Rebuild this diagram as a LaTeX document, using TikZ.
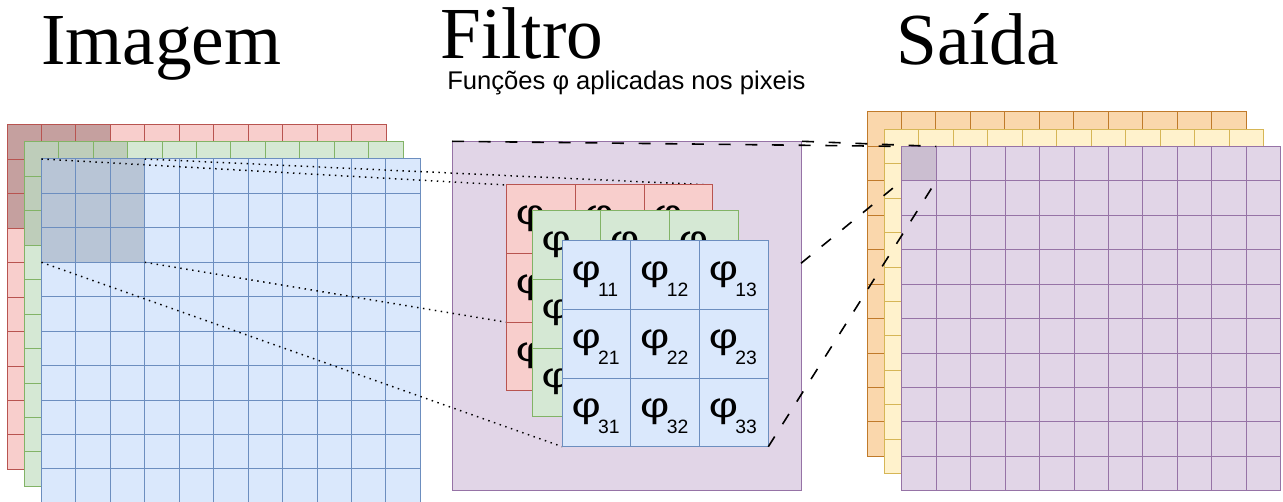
\documentclass[tikz,border=0pt]{standalone}
\usepackage{fontspec}
\setmainfont{Liberation Serif}
\newfontfamily\sansf{Liberation Sans}
\definecolor{redF}{HTML}{F8CECC}\definecolor{redS}{HTML}{B85450}\definecolor{redD}{RGB}{197,160,159}
\definecolor{greenF}{HTML}{D5E8D4}\definecolor{greenS}{HTML}{82B366}\definecolor{greenD}{RGB}{190,205,186}
\definecolor{blueF}{HTML}{DAE8FC}\definecolor{blueS}{HTML}{6C8EBF}\definecolor{blueD}{RGB}{184,197,214}
\definecolor{purpF}{HTML}{E1D5E7}\definecolor{purpS}{HTML}{9673A6}\definecolor{purpD}{RGB}{203,190,208}
\definecolor{oranF}{HTML}{FAD7AC}\definecolor{oranS}{HTML}{C07A2A}
\definecolor{yellF}{HTML}{FFF2CC}\definecolor{yellS}{HTML}{D6B656}
\newcommand\gridlayer[6]{%
\begin{scope}[shift={(#1,#2)}]
\fill[#3] (0,0) rectangle (379,344.4);
\fill[#5] (0,0) rectangle (#6*34.45,#6*34.44);
\foreach \i in {1,...,10} \draw[#4,gridline] (\i*34.45,0) -- (\i*34.45,344.4);
\foreach \j in {1,...,9} \draw[#4,gridline] (0,\j*34.44) -- (379,\j*34.44);
\draw[#4,gridline] (0,0) rectangle (379,344.4);
\end{scope}}
\newcommand\filtgrid[5]{% x y fill stroke prefix
\begin{scope}[shift={(#1,#2)}]
\fill[#3] (0,0) rectangle (206,206);
\foreach \i in {1,2} \draw[#4,gridline] (\i*68.67,0) -- (\i*68.67,206);
\foreach \j in {1,2} \draw[#4,gridline] (0,\j*68.67) -- (206,\j*68.67);
\draw[#4,gridline] (0,0) rectangle (206,206);
\foreach \r in {1,2,3}{\foreach \c in {1,2,3}{
\node[phitext] (#5\r\c) at ({(\c-1)*68.67+9},{(\r-1)*68.67+39.5}) {\scalebox{1.3}[1]{\fontsize{26}{26}\selectfont φ}\kern-2pt\raisebox{-12pt}{\fontsize{14.5}{14.5}\selectfont\r\c}};}}
\end{scope}}
\begin{document}
\begin{tikzpicture}[x=0.75pt,y=-0.75pt,
  gridline/.style={line width=0.75pt},
  phitext/.style={anchor=base west,inner sep=0pt,font=\sansf},
  title/.style={anchor=base west,inner sep=0pt,font=\fontsize{55}{55}\selectfont},
  dotline/.style={line width=1.1pt,dash pattern=on 1.1pt off 3.4pt},
  dashline/.style={line width=1.2pt,dash pattern=on 9pt off 11pt}]
\useasboundingbox (0,0) rectangle (1283,502);
% titles
\node[title] (timg) at (41,65) {Imagem};
\node[title] (tfil) at (440,59) {Filtro};
\node[title] (tsai) at (896,65) {Saída};
\node[anchor=base west,inner sep=0pt,font=\sansf\fontsize{19.2}{19.2}\selectfont] (tsub) at (447,90) {Funções φ aplicadas nos pixeis};
% image layers
\gridlayer{7}{125}{redF}{redS}{redD}{3}
\gridlayer{24.2}{142}{greenF}{greenS}{greenD}{3}
\gridlayer{41.4}{159}{blueF}{blueS}{blueD}{3}
\coordinate (iTL) at (41.4,159);
\coordinate (iTR) at (144.75,159);
\coordinate (iBL) at (41.4,262.3);
\coordinate (iBR) at (144.75,262.3);
% output layers
\gridlayer{867}{112}{oranF}{oranS}{oranF}{0}
\gridlayer{884.5}{129.3}{yellF}{yellS}{yellF}{0}
\gridlayer{901.8}{146.4}{purpF}{purpS}{purpD}{1}
\coordinate (sTL) at (901.8,146.4);
\coordinate (sTR) at (936.25,146.4);
\coordinate (sBL) at (901.8,180.84);
\coordinate (sBR) at (936.25,180.84);
% filter box
\node[draw=purpS,fill=purpF,line width=0.75pt,minimum width=261.75pt,minimum height=261.75pt,anchor=north west,inner sep=0pt] (fbox) at (452,141.3) {};
\coordinate (fR) at (801,263.3);
% dotted lines to the filter
\coordinate (rTL) at (506.7,185);
\coordinate (rTR) at (712.7,185);
\coordinate (rL2) at (506.7,322.3);
\coordinate (bBL) at (562.3,446.7);
\coordinate (bBR) at (768.3,446.7);
\draw[dotline] (iTL) -- (rTL);
\draw[dotline] (iTR) -- (rTR);
\draw[dotline] (iBR) -- (rL2);
\draw[dotline] (iBL) -- (bBL);
% filter grids
\filtgrid{506.7}{185}{redF}{redS}{pr}
\filtgrid{532.3}{210.7}{greenF}{greenS}{pg}
\filtgrid{562.3}{240.7}{blueF}{blueS}{pb}
% dashed lines to output
\draw[dashline] (fbox.north west) -- (sTL);
\draw[dashline] (fbox.north east) -- (sTR);
\draw[dashline] (fR) -- (sBL);
\draw[dashline] (bBR) -- (sBR);
\end{tikzpicture}
\end{document}
